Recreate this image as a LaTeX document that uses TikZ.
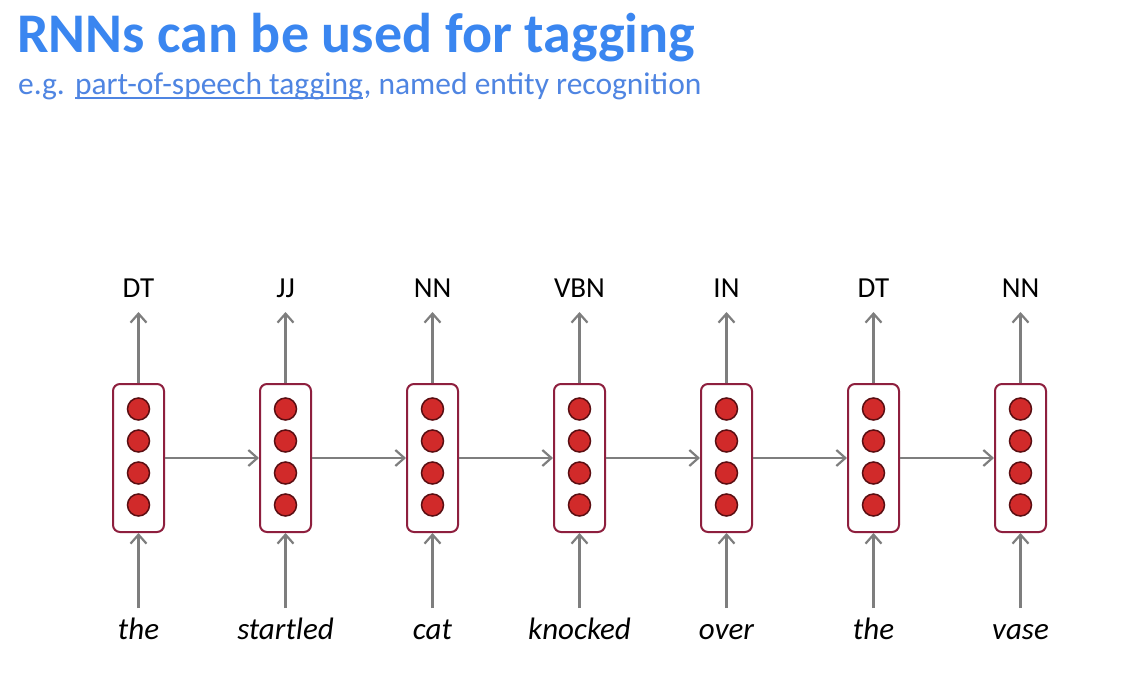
\documentclass[tikz,border=0pt]{standalone}
\usepackage{fontspec}
\setmainfont{Carlito}
\usetikzlibrary{arrows.meta,positioning}
\definecolor{titleblue}{HTML}{3A86F0}
\definecolor{subblue}{HTML}{4F85E2}
\definecolor{boxred}{HTML}{8E1F3E}
\definecolor{dotred}{HTML}{D12A2A}
\definecolor{dotedge}{HTML}{5A0E12}
\definecolor{arrowgray}{HTML}{7E7E7E}
\newcommand{\myuline}[1]{\begin{tikzpicture}[baseline=(u.base)]\node[inner sep=0pt,outer sep=0pt](u){#1};\draw[line width=1.3pt,subblue] ([yshift=-3pt]u.base west) -- ([yshift=-3pt]u.base east);\end{tikzpicture}}
\tikzset{
  rnnbox/.style={draw=boxred, line width=2pt, fill=white, rounded corners=7pt,
    minimum width=51pt, minimum height=148pt, inner sep=0pt},
  neuron/.style={circle, draw=dotedge, line width=1.5pt, fill=dotred, minimum size=22pt, inner sep=0pt},
  conn/.style={draw=arrowgray, line width=2.4pt, -{Straight Barb[length=9pt,width=16pt,line width=2.2pt]}},
  taglabel/.style={font=\fontsize{29}{33}\selectfont, anchor=base, text=black},
  wordlabel/.style={font=\fontsize{31}{36}\selectfont\itshape, anchor=base, text=black}
}
\begin{document}
\begin{tikzpicture}[x=1pt,y=-1pt]
\useasboundingbox (0,0) rectangle (1136,682);
\fill[white] (0,0) rectangle (1136,682);
\node[anchor=base west, inner sep=0pt, text=titleblue, font=\fontsize{56}{60}\selectfont\bfseries] (title) at (17,53) {RNNs can be used for tagging};
\node[anchor=base west, inner sep=0pt, text=subblue, font=\fontsize{31.5}{36}\selectfont] (subtitle) at (18,95) {e.g. \myuline{part-of-speech tagging}, named entity recognition};
\foreach \i/\tag/\word in {1/DT/the,2/JJ/startled,3/NN/cat,4/VBN/knocked,5/IN/over,6/DT/the,7/NN/vase}{
  \pgfmathsetmacro{\cx}{138.5+147*(\i-1)}
  \node[rnnbox] (b\i) at (\cx,458) {};
  \foreach \k in {1,2,3,4}{
    \node[neuron] (n\i\k) at (\cx,377+32*\k) {};
  }
  \node[taglabel] (t\i) at (\cx,297) {\tag};
  \coordinate (tt\i) at (\cx,312);
  \node[wordlabel] (w\i) at (\cx,639) {\word};
  \coordinate (wb\i) at (\cx,608);
  \draw[conn] (b\i.north) -- (tt\i);
  \draw[conn] (wb\i) -- (b\i.south);
}
\foreach \i [evaluate=\i as \j using int(\i+1)] in {1,...,6}{
  \draw[conn] (b\i.east) -- (b\j.west);
}
\end{tikzpicture}
\end{document}
